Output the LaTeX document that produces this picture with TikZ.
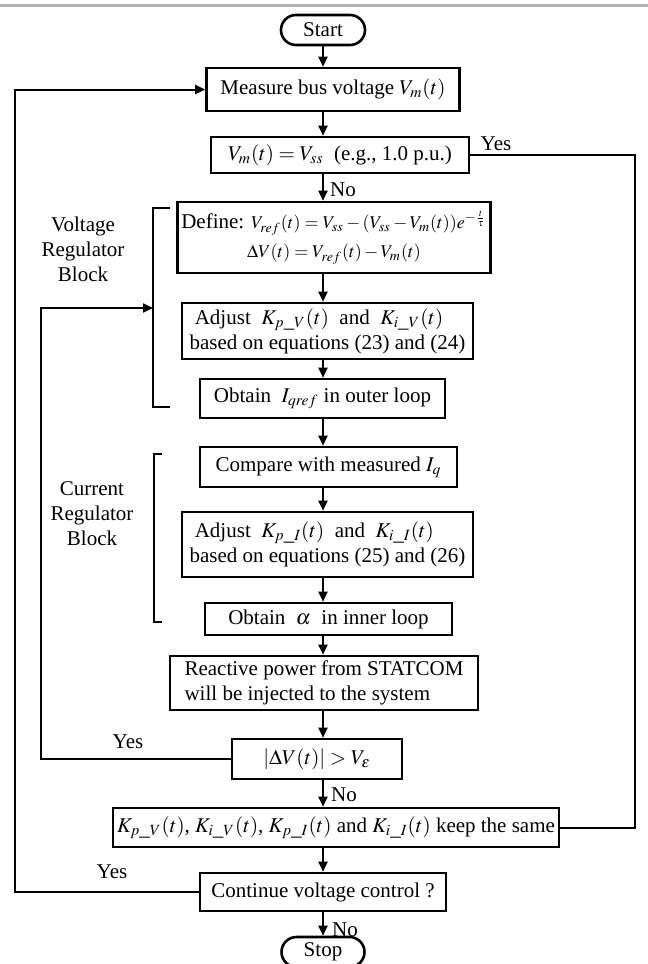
\documentclass[tikz,border=0pt]{standalone}
\usepackage{mathptmx}
\usepackage{fontspec}
\setmainfont{Liberation Serif}
\usetikzlibrary{shapes.misc,arrows.meta}
\newcommand{\fcfont}{\fontsize{10.5}{12.5}\selectfont}
\newcommand{\eqfont}{\fontsize{9}{11}\selectfont}
\tikzset{
  box/.style={draw, line width=1.3pt, inner sep=2pt, font=\fcfont},
  term/.style={draw, rounded rectangle, line width=1.3pt, inner sep=2pt, font=\fcfont},
  lbl/.style={inner sep=0pt, font=\fcfont},
  arr/.style={line width=1pt, -{Triangle[length=5pt,width=4.5pt]}},
  lin/.style={line width=1pt},
  brk/.style={line width=1pt}
}
\begin{document}
\begin{tikzpicture}[x=0.5pt,y=-0.5pt]
\useasboundingbox[fill=white] (0,0) rectangle (648,964);
\draw[gray!60, line width=1.5pt] (0,5) -- (648,5);
\coordinate (col) at (323,0);

\node[term, minimum width=46pt, minimum height=15pt] (start) at (323,30) {Start};
\node[box, minimum width=126.5pt, minimum height=21.5pt] (measure) at (333,89.5) {Measure bus voltage $V_m(t)$};
\node[box, minimum width=129pt, minimum height=18pt] (vm) at (340,155) {$V_m(t)=V_{ss}$\ \ (e.g., 1.0 p.u.)};
\node[box, minimum width=156pt, minimum height=35.5pt, align=center] (define) at (334,237.5)
  {Define: {\eqfont$V_{ref}(t)=V_{ss}-(V_{ss}-V_m(t))e^{-\frac{t}{\tau}}$}\\[2pt] {\eqfont$\Delta V(t)=V_{ref}(t)-V_m(t)$}};
\node[box, minimum width=145.5pt, minimum height=28pt, align=left] (adjv) at (327.5,331)
  {\ Adjust \ $K_{p\_V}(t)$ \ and \ $K_{i\_V}(t)$\\ based on equations (23) and (24)};
\node[box, minimum width=122.5pt, minimum height=19.5pt] (obtq) at (322.5,398.5) {Obtain \ $I_{qref}$ in outer loop};
\node[box, minimum width=128.5pt, minimum height=20pt] (comp) at (328.5,467) {Compare with measured $I_q$};
\node[box, minimum width=145.5pt, minimum height=32.5pt, align=left] (adji) at (327.5,544.5)
  {\ Adjust \ $K_{p\_I}(t)$ \ and \ $K_{i\_I}(t)$\\ based on equations (25) and (26)};
\node[box, minimum width=123.5pt, minimum height=16pt] (alpha) at (328.5,619) {Obtain \ $\alpha$ \ in inner loop};
\node[box, minimum width=154pt, minimum height=27pt, align=left] (react) at (324,683)
  {Reactive power from STATCOM\\ will be injected to the system};
\node[box, minimum width=85pt, minimum height=20pt] (dv) at (317,759) {$|\Delta V(t)|>V_\varepsilon$};
\node[box, minimum width=216pt, minimum height=19.5pt] (keep) at (336,827.5)
  {$K_{p\_V}(t)$, $K_{i\_V}(t)$, $K_{p\_I}(t)$ and $K_{i\_I}(t)$ keep the same};
\node[box, minimum width=123pt, minimum height=19pt] (cont) at (323,892) {Continue voltage control ?};
\node[term, minimum width=45.5pt, minimum height=15pt] (stop) at (323,952) {Stop};

% labels
\node[lbl] (yesa) at (496,144) {Yes};
\node[lbl] (noa) at (343,190) {No};
\node[lbl] (yesb) at (128,742) {Yes};
\node[lbl] (nob) at (344,795) {No};
\node[lbl] (yesc) at (112,872) {Yes};
\node[lbl] (noc) at (345,930) {No};
\node[lbl, align=center] (vblock) at (83,249) {Voltage\\Regulator\\Block};
\node[lbl, align=center] (cblock) at (92,514) {Current\\Regulator\\Block};

% main column
\draw[arr] (start.south -| col) -- (measure.north -| col);
\draw[arr] (measure.south -| col) -- (vm.north -| col);
\draw[arr] (vm.south -| col) -- (define.north -| col);
\draw[arr] (define.south -| col) -- (adjv.north -| col);
\draw[arr] (adjv.south -| col) -- (obtq.north -| col);
\draw[arr] (obtq.south -| col) -- (comp.north -| col);
\draw[arr] (comp.south -| col) -- (adji.north -| col);
\draw[arr] (adji.south -| col) -- (alpha.north -| col);
\draw[arr] (alpha.south -| col) -- (react.north -| col);
\draw[arr] (react.south -| col) -- (dv.north -| col);
\draw[arr] (dv.south -| col) -- (keep.north -| col);
\draw[arr] (keep.south -| col) -- (cont.north -| col);
\draw[arr] (cont.south -| col) -- (stop.north -| col);

% brackets
\draw[brk] (170,208) -- (153,208) -- (153,407) -- (170,407);
\draw[brk] (162,454) -- (154,454) -- (154,622) -- (162,622);
\coordinate (vbr) at (153,308);

% loops
\draw[arr] (dv.west) -- ++(-190,0) |- (vbr);
\draw[arr] (cont.west) -- ++(-184,0) |- (measure.west);
\draw[lin] (vm.east) -- ++(165,0) |- (keep.east);
\end{tikzpicture}
\end{document}
